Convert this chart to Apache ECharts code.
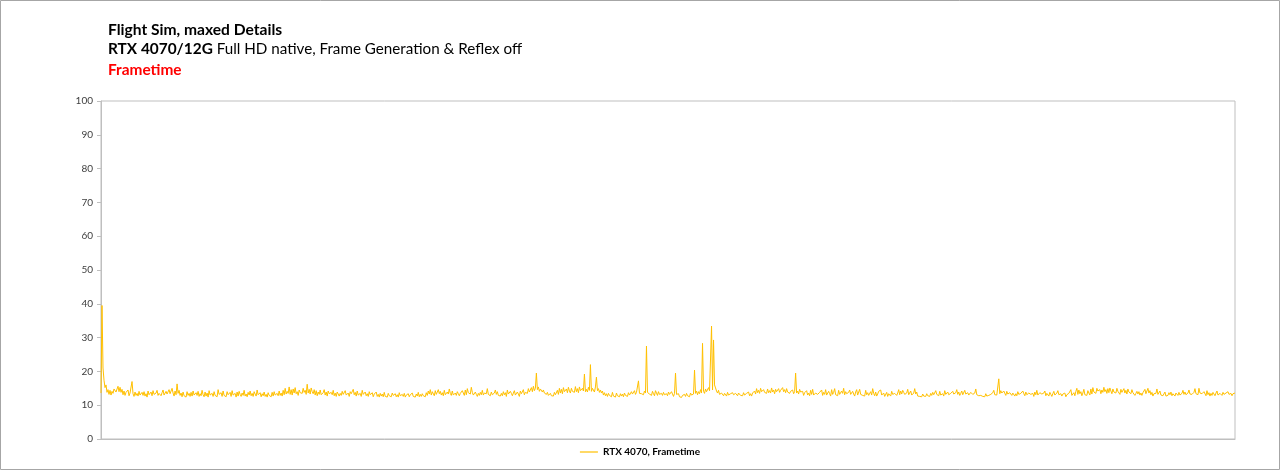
<!DOCTYPE html>
<html>
<head>
<meta charset="utf-8">
<script src="https://cdn.jsdelivr.net/npm/echarts@6/dist/echarts.min.js"></script>
<style>
html,body{margin:0;padding:0;background:#fff;}
#c{width:1280px;height:470px;}
</style>
</head>
<body>
<div id="c"></div>
<script>
var titleLine1 = "Flight Sim, maxed Details";
var titleLine2Bold = "RTX 4070/12G";
var titleLine2Rest = " Full HD native, Frame Generation & Reflex off";
var titleLine3 = "Frametime";
var seriesName = "RTX 4070, Frametime";
var yTicks = [0, 10, 20, 30, 40, 50, 60, 70, 80, 90, 100];

var frametime = [
13.6,39.5,21.0,17.4,15.2,16.0,13.8,14.6,13.2,14.4,13.0,14.1,13.5,14.8,15.2,13.9,14.3,15.6,14.0,15.3,
13.8,14.7,13.1,14.2,12.9,13.8,13.3,14.5,12.8,13.6,13.2,17.0,13.4,12.6,13.9,12.9,13.5,12.7,14.1,13.0,
12.5,13.8,12.9,14.0,12.7,13.4,12.4,14.2,13.1,12.6,13.9,12.8,14.3,13.2,12.7,13.6,14.4,12.9,13.5,14.0,
12.8,13.7,14.5,13.0,12.6,14.1,13.3,12.8,14.6,13.4,12.9,15.0,13.6,12.7,14.2,13.1,16.3,13.5,14.4,12.9,
13.6,12.5,13.9,12.8,13.3,12.4,14.0,12.9,13.5,12.6,13.8,12.7,14.2,13.0,12.5,13.7,12.9,14.1,12.6,13.4,
12.8,14.4,13.1,12.5,13.9,12.7,13.6,12.4,14.3,13.0,12.8,13.5,12.6,14.0,12.9,13.3,12.5,14.6,13.2,12.8,
13.7,12.6,14.2,12.9,13.4,12.5,14.0,13.1,12.7,13.8,12.6,14.3,13.0,12.8,13.5,12.4,13.9,12.7,14.1,13.2,
12.6,13.6,12.9,14.4,12.7,13.3,12.5,13.8,13.0,14.2,12.8,13.5,12.6,14.0,13.3,12.7,14.5,13.1,12.9,13.7,
12.5,13.4,12.8,13.9,12.6,13.2,12.4,13.7,12.9,13.1,12.5,13.8,12.7,14.0,13.0,12.6,13.5,12.8,14.2,12.9,
13.6,12.7,14.4,13.1,15.0,13.3,14.1,13.5,15.4,13.2,14.6,13.0,14.8,13.6,15.2,13.4,14.0,12.9,14.5,13.7,
14.2,13.5,15.0,13.8,14.4,13.2,16.2,13.6,14.7,13.3,15.1,14.0,13.4,14.6,13.0,14.3,12.8,13.9,13.2,14.5,
13.1,12.8,13.7,14.6,13.0,13.9,12.7,14.2,13.4,12.9,13.8,13.1,14.4,12.8,13.6,12.6,13.9,13.3,12.7,13.5,
12.9,14.1,13.2,12.7,14.3,13.0,12.8,13.6,12.6,14.0,13.4,12.9,14.7,13.1,13.8,12.7,14.2,13.0,12.8,13.5,
12.6,14.4,13.2,12.7,13.9,12.8,13.4,12.6,14.0,13.1,12.9,13.7,12.5,13.3,12.8,13.9,12.6,13.2,12.4,13.5,
12.7,13.3,12.5,13.8,12.6,13.1,12.4,13.5,12.8,13.0,12.5,13.6,12.9,12.6,13.4,12.5,13.1,12.4,13.7,12.8,
12.5,13.2,12.6,13.5,12.4,13.0,12.7,13.4,12.5,13.1,12.8,13.6,12.6,13.0,12.4,13.3,12.7,13.8,12.5,13.2,
12.6,13.4,12.8,13.1,12.5,13.7,12.9,14.2,13.3,14.6,13.0,14.0,13.5,12.8,14.3,13.2,12.9,14.6,13.4,14.1,
13.0,13.7,12.8,14.4,13.1,12.7,13.9,13.3,14.8,13.5,12.9,14.2,13.0,12.6,13.6,12.9,14.0,13.4,12.8,13.5,
13.2,14.3,13.6,12.9,14.5,13.1,14.9,13.7,14.2,13.3,15.3,13.8,13.0,12.7,13.9,13.2,12.6,13.5,12.9,13.8,
13.1,14.4,13.0,13.6,14.1,13.4,14.9,13.2,13.7,12.8,13.9,13.1,12.7,13.6,14.5,13.2,14.0,12.9,13.3,12.7,
13.5,12.8,14.0,13.1,13.7,12.6,14.5,13.3,12.9,14.1,13.5,12.8,13.6,14.3,13.0,12.7,13.9,13.3,12.6,14.2,
13.4,12.9,14.6,13.1,13.8,14.2,13.5,14.9,13.9,14.4,15.2,14.0,15.6,14.3,15.0,19.5,14.6,15.4,14.1,14.8,
15.1,13.9,14.5,13.6,14.0,13.2,13.8,12.9,12.6,13.5,12.8,13.3,12.7,13.8,13.1,12.6,14.4,13.2,15.0,13.6,
14.7,13.4,15.2,14.0,13.5,14.8,13.7,15.3,14.2,13.6,15.0,14.1,14.6,13.8,15.5,14.0,14.9,13.7,15.4,14.3,
13.8,15.0,14.2,19.2,14.0,14.7,13.9,15.3,14.4,22.0,14.1,15.0,14.6,13.9,15.4,18.3,14.3,14.9,13.8,14.5,
13.6,14.2,13.0,13.7,12.8,13.4,12.6,13.5,12.9,13.2,12.5,13.8,12.7,13.1,12.4,13.6,12.8,13.0,12.5,13.4,
12.7,13.3,12.5,13.6,12.9,13.2,12.6,13.7,13.0,12.8,14.0,13.3,13.7,14.3,13.2,13.8,14.1,17.2,13.5,14.0,
13.4,13.9,13.1,14.2,13.6,27.5,13.8,14.0,13.3,13.7,12.9,14.1,13.4,12.8,14.3,13.6,12.9,14.0,13.2,12.7,
13.5,12.9,13.8,13.1,12.6,13.4,12.8,13.9,13.2,12.7,14.0,13.3,12.6,13.5,19.5,13.2,12.7,13.4,12.5,13.0,
12.3,12.9,12.4,13.2,12.6,13.5,12.8,13.1,12.5,13.6,13.0,12.7,13.3,20.4,13.5,14.2,13.1,14.0,13.4,14.6,
13.6,28.3,14.1,13.5,14.8,14.0,13.7,15.2,14.3,13.9,33.4,14.5,29.3,16.0,15.1,14.2,13.6,14.4,13.2,12.9,
13.6,13.1,12.8,13.5,13.2,12.7,13.8,13.0,12.6,13.4,12.9,13.7,13.1,12.7,13.5,13.0,12.8,13.6,13.2,12.9,
13.4,12.8,13.7,13.0,12.6,13.5,13.2,13.9,12.8,13.4,12.7,13.6,13.1,14.2,13.3,14.9,13.7,14.4,13.5,15.0,
14.0,13.6,14.6,13.8,14.2,13.5,14.8,13.7,14.3,13.6,15.1,13.9,14.5,13.4,14.7,14.0,13.6,14.9,13.8,14.4,
14.1,15.2,14.0,14.6,13.7,14.9,13.9,14.3,13.5,14.1,13.8,14.5,13.4,14.0,19.5,13.6,14.2,13.3,14.7,13.9,
13.4,14.1,12.9,13.7,13.2,14.3,13.0,13.6,12.8,14.4,13.2,14.7,13.0,12.8,13.6,14.0,13.2,12.9,13.8,13.4,
14.5,12.9,13.8,13.2,14.6,13.0,12.8,14.1,13.4,12.7,14.6,13.2,13.8,14.9,13.1,13.6,12.8,14.4,13.2,12.9,
14.2,13.5,15.0,13.1,14.0,13.4,12.9,13.8,14.5,13.2,12.8,14.1,13.3,12.7,13.9,14.6,13.0,13.5,14.7,13.2,
13.6,12.9,13.3,12.7,14.4,13.1,13.7,12.9,13.4,14.0,13.0,14.9,13.5,12.8,13.9,12.7,13.3,14.1,13.7,14.5,
13.0,12.8,13.6,12.6,12.9,13.8,12.6,13.4,13.0,12.7,14.1,13.2,12.8,13.5,14.0,12.9,13.6,14.6,13.1,14.2,
13.3,14.4,13.8,13.2,12.8,13.6,14.7,13.1,13.5,14.2,13.0,12.8,13.6,14.9,13.3,13.9,12.7,13.2,12.6,12.9,
12.5,13.3,12.7,13.1,12.6,13.4,12.8,13.2,12.6,13.5,12.9,13.8,13.1,12.8,14.3,13.2,13.6,12.8,14.1,13.0,
12.9,13.4,12.7,14.3,13.2,12.8,13.9,13.1,12.7,13.5,13.0,14.1,13.3,12.8,13.7,14.6,13.2,13.9,12.9,13.5,
14.2,13.1,12.9,14.4,13.3,12.8,13.7,13.0,12.6,13.8,14.0,13.2,12.9,13.6,14.8,13.1,13.5,12.8,13.3,12.9,
13.2,12.6,13.0,12.5,13.4,12.7,12.5,12.9,12.6,13.2,12.8,13.7,14.4,13.1,13.6,13.0,12.8,17.8,13.4,14.3,
13.6,13.1,14.2,13.5,12.9,14.1,13.3,12.8,13.7,13.2,12.9,13.6,13.1,12.7,13.4,12.8,14.0,13.2,12.9,13.5,
13.1,14.2,13.4,12.8,13.9,13.1,12.7,13.6,14.0,13.2,12.8,13.5,12.6,13.9,13.1,14.4,13.0,12.8,13.7,14.1,
13.3,12.9,13.6,14.2,12.8,13.5,13.0,12.7,13.8,13.2,12.6,13.4,14.1,13.0,12.8,13.6,14.3,13.1,12.9,13.4,
12.7,13.3,12.9,13.6,12.5,13.1,12.7,13.5,13.0,14.6,12.9,13.3,13.7,12.8,14.1,15.0,13.2,14.5,13.4,14.0,
12.8,13.6,14.7,13.1,13.4,12.9,14.3,13.6,13.0,14.8,13.3,15.2,13.9,14.4,13.5,15.0,14.2,13.7,14.6,13.4,
14.5,13.8,15.3,14.0,14.6,13.5,14.9,13.7,15.1,14.2,13.4,14.8,13.9,14.3,13.6,15.0,14.1,14.5,13.2,14.7,
13.8,14.2,14.9,13.6,14.4,13.3,14.8,13.9,14.0,13.4,14.6,13.7,14.2,12.9,13.5,14.1,13.3,14.0,13.0,13.6,
12.9,13.7,13.2,14.7,13.4,13.0,15.0,13.6,14.3,13.1,13.8,12.7,13.4,12.9,13.5,14.8,13.2,13.6,14.2,13.0,
13.5,12.8,13.3,13.9,12.7,13.2,12.9,13.7,13.1,13.9,12.8,13.4,13.0,12.7,13.6,13.3,12.9,13.8,13.0,12.8,
13.5,14.4,13.2,13.9,13.1,12.7,13.6,14.5,13.3,13.8,13.2,12.9,13.8,14.9,13.4,13.7,13.1,15.0,13.6,14.1,
13.4,12.9,14.0,13.6,12.8,14.3,13.1,13.7,12.7,13.5,12.9,13.8,13.3,12.8,13.6,14.2,13.0,12.8,13.5,13.2,
12.9,13.8,13.2,12.8,13.6,13.1,14.0,13.2,12.7,13.5,12.8,13.4,13.0,13.6
];

var categories = frametime.map(function (v, i) { return i + 1; });

var chart = echarts.init(document.getElementById('c'), null, {renderer: 'canvas'});
var font = 'Lato, "Open Sans", sans-serif';
chart.setOption({
  animation: false,
  backgroundColor: '#ffffff',
  title: [
    {text: titleLine1, left: 103, top: 17,
     textStyle: {fontFamily: font, fontSize: 15.6, fontWeight: 'bold', color: '#000'}},
    {text: '{b|' + titleLine2Bold + '}{r|' + titleLine2Rest + '}', left: 103, top: 37,
     textStyle: {fontWeight: 'normal', rich: {
       b: {fontFamily: font, fontSize: 15.4, fontWeight: 'bold', color: '#000'},
       r: {fontFamily: font, fontSize: 15.2, fontWeight: 'normal', color: '#000'}
     }}},
    {text: titleLine3, left: 103, top: 58,
     textStyle: {fontFamily: font, fontSize: 15.4, fontWeight: 'bold', color: '#ff0000'}}
  ],
  graphic: [{
    type: 'rect', shape: {x: 0.5, y: 0.5, width: 1279, height: 469},
    style: {fill: 'none', stroke: '#a6a6a6', lineWidth: 1}, silent: true
  }],
  legend: {
    bottom: 8, left: 'center',
    itemWidth: 18, itemHeight: 2, itemGap: 10,
    icon: 'rect',
    textStyle: {fontFamily: font, fontSize: 10, fontWeight: 'bold', color: '#000'},
    data: [{name: seriesName, itemStyle: {color: '#ffd966'}}]
  },
  grid: {
    left: 101, right: 45, top: 101, bottom: 31,
    show: true, borderColor: '#bfbfbf', borderWidth: 1, backgroundColor: '#fff'
  },
  xAxis: {
    type: 'category', data: categories, boundaryGap: false,
    axisLine: {show: true, lineStyle: {color: '#bfbfbf'}},
    axisTick: {show: false}, axisLabel: {show: false}, splitLine: {show: false}
  },
  yAxis: {
    type: 'value', min: yTicks[0], max: yTicks[yTicks.length - 1], interval: 10,
    axisLine: {show: true, lineStyle: {color: '#bfbfbf'}},
    axisTick: {show: true, length: 4, lineStyle: {color: '#bfbfbf'}},
    axisLabel: {fontFamily: font, fontSize: 10, color: '#404040', margin: 8},
    splitLine: {show: false}
  },
  series: [{
    name: seriesName, type: 'line', data: frametime,
    showSymbol: false, symbol: 'none', sampling: null,
    lineStyle: {color: '#ffc000', width: 1},
    itemStyle: {color: '#ffc000'}
  }]
});
</script>
</body>
</html>
